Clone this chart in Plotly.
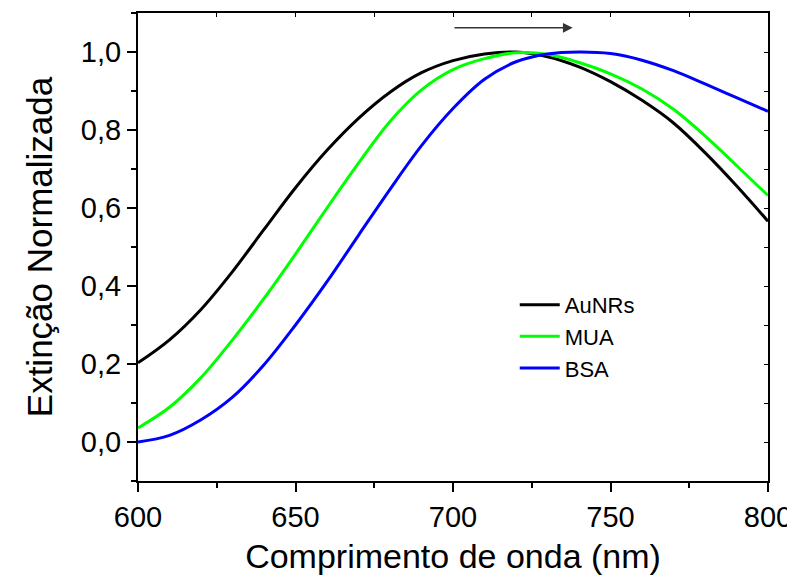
import plotly.graph_objects as go

wavelength = [600, 610, 620, 630, 640, 650, 660, 670, 680, 690, 700,
              710, 720, 730, 740, 750, 760, 770, 780, 790, 800]
aunrs = [0.203, 0.262, 0.340, 0.437, 0.545, 0.652, 0.748, 0.830, 0.897, 0.947, 0.978,
         0.995, 1.000, 0.988, 0.962, 0.924, 0.876, 0.818, 0.742, 0.657, 0.566]
mua = [0.036, 0.089, 0.165, 0.262, 0.368, 0.482, 0.600, 0.715, 0.822, 0.903, 0.955,
       0.983, 0.998, 0.994, 0.973, 0.944, 0.905, 0.853, 0.785, 0.709, 0.632]
bsa = [0.000, 0.017, 0.057, 0.115, 0.198, 0.300, 0.411, 0.530, 0.648, 0.760, 0.855,
       0.930, 0.975, 0.995, 1.000, 0.996, 0.979, 0.952, 0.918, 0.883, 0.848]

series_names = ["AuNRs", "MUA", "BSA"]
series_values = [aunrs, mua, bsa]
series_colors = ["#000000", "#00FF00", "#0000FF"]

x_ticks = [600, 650, 700, 750, 800]
y_ticks = [0.0, 0.2, 0.4, 0.6, 0.8, 1.0]
y_tick_labels = ["0,0", "0,2", "0,4", "0,6", "0,8", "1,0"]

FONT = "Liberation Sans, Arial, sans-serif"

fig = go.Figure()
for name, vals, col in zip(series_names, series_values, series_colors):
    fig.add_trace(go.Scatter(x=wavelength, y=vals, mode="lines", name=name,
                             line=dict(color=col, width=3, shape="spline",
                                       smoothing=1.0)))

axis_common = dict(showgrid=False, zeroline=False, showline=True,
                   linecolor="black", linewidth=2, ticks="outside",
                   ticklen=9, tickwidth=1.5, tickcolor="black",
                   automargin=False,
                   tickfont=dict(family=FONT, size=29, color="black"))

# the page body adds an 8 px offset, so margins are reduced by 8 on top/left
fig.update_layout(
    width=795, height=580,
    margin=dict(l=130, r=35, t=5, b=107),
    paper_bgcolor="white", plot_bgcolor="white",
    font=dict(family=FONT, color="black"),
    xaxis=dict(range=[600, 800], tickvals=x_ticks,
               title=dict(text="Comprimento de onda (nm)",
                          font=dict(family=FONT, size=34), standoff=12),
               minor=dict(ticks="outside", dtick=25, ticklen=5,
                          tickwidth=1.5, tickcolor="black"),
               **axis_common),
    yaxis=dict(range=[-0.1, 1.1], tickvals=y_ticks, ticktext=y_tick_labels,
               title=dict(text="Extinção Normalizada",
                          font=dict(family=FONT, size=35), standoff=18),
               minor=dict(ticks="outside", dtick=0.1, tick0=0, ticklen=5,
                          tickwidth=1.5, tickcolor="black"),
               **axis_common),
    xaxis2=dict(range=[600, 800], overlaying="x", side="top", showgrid=False,
                zeroline=False, showline=True, linecolor="black", linewidth=2,
                ticks="inside", ticklen=4, tickwidth=1.2, tickcolor="black",
                dtick=25, tick0=600, showticklabels=False, automargin=False),
    yaxis2=dict(range=[-0.1, 1.1], overlaying="y", side="right", showgrid=False,
                zeroline=False, showline=True, linecolor="black", linewidth=2,
                ticks="inside", ticklen=4, tickwidth=1.2, tickcolor="black",
                dtick=0.1, tick0=0, showticklabels=False, automargin=False),
    legend=dict(x=0.598, y=0.421, xanchor="left", yanchor="top",
                bgcolor="rgba(0,0,0,0)", borderwidth=0,
                font=dict(family=FONT, size=22, color="black"),
                itemwidth=40, tracegroupgap=0),
    showlegend=True,
)

# invisible helper trace so the mirrored axes are drawn
fig.add_trace(go.Scatter(x=wavelength, y=aunrs, xaxis="x2", yaxis="y2",
                         mode="lines", line=dict(width=0), opacity=0,
                         showlegend=False, hoverinfo="skip"))

fig.add_annotation(x=738, y=1.062, ax=700, ay=1.062, xref="x", yref="y",
                   axref="x", ayref="y", showarrow=True, arrowhead=2,
                   arrowsize=1.3, arrowwidth=1.5, arrowcolor="#333333", text="")

fig.write_html("out.html")
